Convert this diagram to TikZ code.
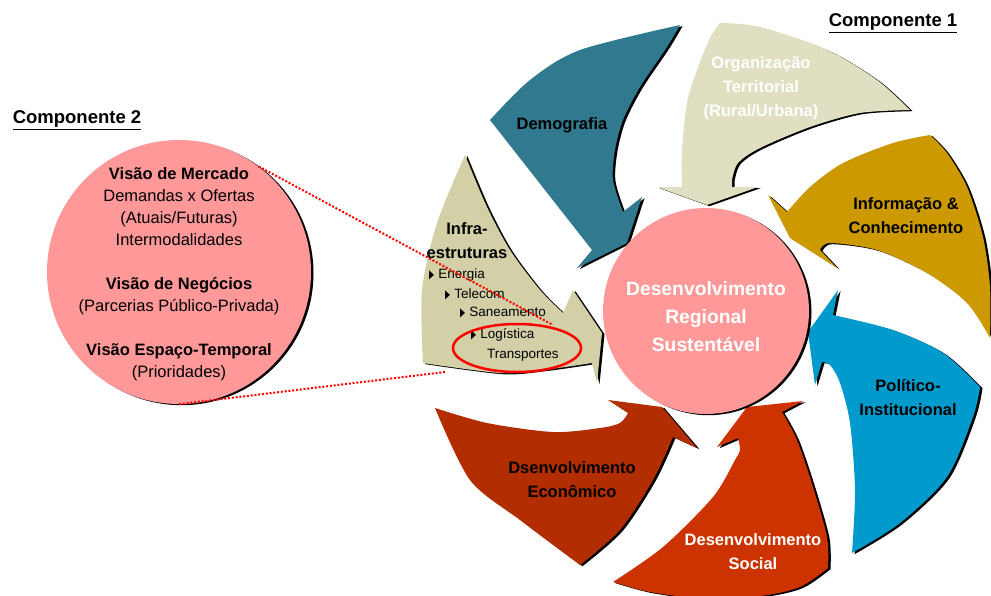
\documentclass[tikz,border=0pt]{standalone}
\usepackage{fontspec}
\setmainfont{Liberation Sans}
\newfontfamily\symfont{DejaVu Sans}
\usetikzlibrary{shapes.geometric}

\definecolor{azulpetroleo}{HTML}{30798F}
\definecolor{bege}{HTML}{E0DFC1}
\definecolor{ouro}{HTML}{CC9900}
\definecolor{azul}{HTML}{009ACC}
\definecolor{laranja}{HTML}{CC3300}
\definecolor{telha}{HTML}{B22D00}
\definecolor{caqui}{HTML}{D3D0A7}
\definecolor{rosa}{HTML}{FF9999}

\tikzset{
  sombra/.style={preaction={fill=black, transform canvas={xshift=2.5pt, yshift=-1.2pt}}},
  rotulo/.style={font=\bfseries\fontsize{16.5}{24}\selectfont, align=center},
  item/.style={font=\fontsize{13.5}{16}\selectfont, anchor=west, inner sep=0pt},
  titulo/.style={font=\bfseries\fontsize{18.5}{22}\selectfont},
  bola/.style={circle, fill=rosa, sombra, inner sep=0pt},
  pontilhado/.style={draw=red, line width=2pt, dash pattern=on 2pt off 1.8pt},
}
\newcommand{\marcador}{\scalebox{0.55}[1]{\symfont\fontsize{12}{12}\selectfont ▶}\hspace{4pt}}

\begin{document}
\begin{tikzpicture}[x=1pt, y=-1pt]
\path[use as bounding box, fill=white] (0,0) rectangle (991,595);

% setas em volta do circulo central
\fill[azulpetroleo, sombra] (680,25) -- plot[smooth] coordinates {(680,25) (580,50) (530,80) (490,120)} -- (592,250) -- (577,268) -- (627,243) -- (642,197) -- (623,212) -- plot[smooth] coordinates {(623,212) (613,180) (615,150) (623,120) (640,87) (667,47) (680,25)} -- cycle;
\fill[bege, sombra] (720,23) -- plot[smooth] coordinates {(720,23) (760,27) (827,50) (877,80) (910,110)} -- plot[smooth] coordinates {(910,110) (860,113) (810,127) (760,148) (738,163) (732,180)} -- (732,187) -- (758,187) -- (707,205) -- (657,187) -- (682,187) -- plot[smooth] coordinates {(682,187) (682,150) (687,103) (697,70) (710,38) (720,23)} -- cycle;
\fill[ouro, sombra] (930,135) -- plot[smooth] coordinates {(930,135) (893,143) (843,163) (810,187) (787,212)} -- (768,195) -- (790,238) -- (837,268) -- (820,250) -- plot[smooth] coordinates {(820,250) (830,243) (877,250) (927,273) (967,303) (990,338)} -- plot[smooth] coordinates {(990,338) (990,287) (983,237) (967,187) (947,153) (930,135)} -- cycle;
\fill[azul, sombra] (808,332) -- (838,290) -- (833,315) -- plot[smooth] coordinates {(833,315) (893,330) (943,353) (980,387)} -- plot[smooth] coordinates {(980,387) (973,417) (947,477) (900,523) (852,553)} -- plot[smooth] coordinates {(852,553) (855,490) (850,423) (840,383) (830,365) (822,362)} -- (815,385) -- cycle;
\fill[laranja, sombra] (747,407) -- (803,401) -- (782,412) -- plot[smooth] coordinates {(782,412) (797,440) (813,487) (827,537) (828,568)} -- plot[smooth] coordinates {(828,568) (800,587) (760,596) (700,598) (650,592) (613,582)} -- plot[smooth] coordinates {(613,582) (663,547) (713,497) (735,460) (740,450) (738,438)} -- (717,447) -- cycle;
\fill[telha, sombra] (435,408) -- plot[smooth] coordinates {(435,408) (487,423) (553,432) (600,428) (620,423) (628,413)} -- (608,400) -- (662,407) -- (697,448) -- (673,437) -- plot[smooth] coordinates {(673,437) (653,480) (620,530) (580,565)} -- plot[smooth] coordinates {(580,565) (520,520) (470,480) (435,408)} -- cycle;
\fill[caqui, sombra] (465,155) -- plot[smooth] coordinates {(465,155) (487,207) (510,250) (540,290) (563,313)} -- (573,290) -- (602,333) -- (597,383) -- (592,363) -- plot[smooth] coordinates {(592,363) (543,370) (500,373) (423,363)} -- plot[smooth] coordinates {(423,363) (422,290) (437,223) (465,155)} -- cycle;

% circulos
\node[bola, minimum size=206pt] (drs) at (706,311) {};
\node[text=white, align=center, font=\bfseries\fontsize{19.3}{28}\selectfont] (drstexto) at (706,317) {Desenvolvimento\\Regional\\Sustentável};
\node[bola, minimum size=264pt] (comp2) at (179,272) {};
\node[align=center, font=\fontsize{16.5}{22}\selectfont] (comp2texto) at (179,274) {\textbf{Visão de Mercado}\\Demandas x Ofertas\\(Atuais/Futuras)\\Intermodalidades\\[22pt]\textbf{Visão de Negócios}\\(Parcerias Público-Privada)\\[22pt]\textbf{Visão Espaço-Temporal}\\(Prioridades)};

% rotulos das setas
\node[rotulo] (demografia) at (562,125) {Demografia};
\node[rotulo, text=white] (organizacao) at (761,88) {Organização\\Territorial\\(Rural/Urbana)};
\node[rotulo] (informacao) at (906,216) {Informação \&\\Conhecimento};
\node[rotulo] (politico) at (908,398) {Político-\\Institucional};
\node[rotulo, text=white] (social) at (753,552) {Desenvolvimento\\Social};
\node[rotulo] (economico) at (572,480) {Dsenvolvimento\\Econômico};
\node[rotulo] (infra) at (467,241) {Infra-\\estruturas};

% lista
\node[item] (energia) at (429,275) {\marcador Energia};
\node[item] (telecom) at (445,294) {\marcador Telecom};
\node[item] (saneamento) at (460,313) {\marcador Saneamento};
\node[item] (txtlog) at (471,335) {\marcador Logística};
\node[item] (transp) at (487,355) {Transportes};
\node[ellipse, draw=red, line width=2.5pt, minimum width=128pt, minimum height=48pt] (logistica) at (517,348) {};

% ligacao
\coordinate (fimA) at (553,325);
\coordinate (fimB) at (445,372);
\draw[pontilhado] (comp2.53) -- (fimA);
\draw[pontilhado] (comp2.270) -- (fimB);

% titulos
\node[titulo] (comp1) at (893,23) {\underline{Componente 1}};
\node[titulo] (comp2t) at (77,120) {\underline{Componente 2}};
\end{tikzpicture}
\end{document}
